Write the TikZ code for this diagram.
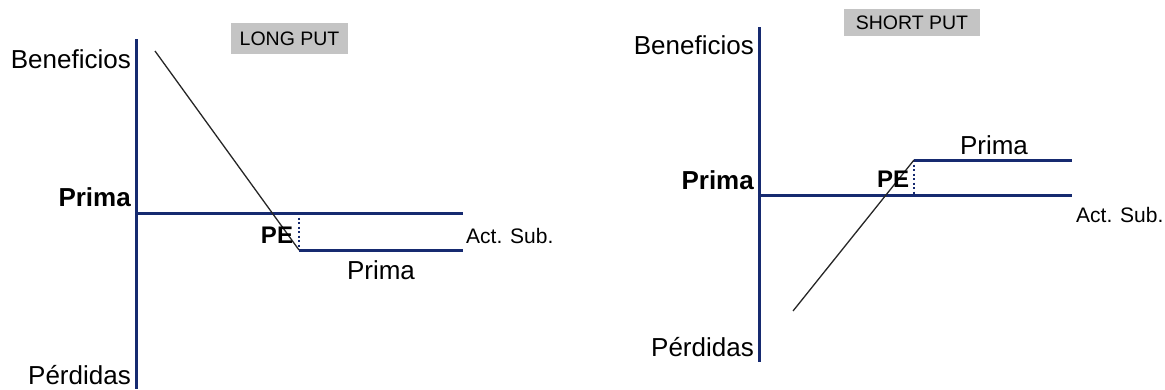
\documentclass[tikz,border=0pt]{standalone}
\usepackage{fontspec}
\setmainfont{Liberation Sans}
\usepackage{tikz}
\usetikzlibrary{positioning}
\definecolor{azulEje}{RGB}{22,42,112}
\definecolor{grisCaja}{RGB}{196,196,196}
\tikzstyle{eje} = [draw=azulEje, line width=3pt]
\tikzstyle{pago} = [draw=black!85, line width=1.3pt]
\tikzstyle{punteado} = [draw=azulEje, line width=1.2pt, dash pattern=on 2pt off 2.5pt]
\tikzstyle{etiqueta} = [inner sep=0pt, font=\fontsize{26}{29}\selectfont]
\tikzstyle{etiquetaN} = [inner sep=0pt, font=\fontsize{26}{29}\selectfont\bfseries]
\tikzstyle{titulo} = [fill=grisCaja, inner sep=0pt, font=\fontsize{19.5}{22}\selectfont]

\begin{document}
\begin{tikzpicture}[x=1pt, y=-1pt]
		\useasboundingbox (0,0) rectangle (1165,389);
		
		% LONG PUT
		% Ejes
		\coordinate (ejeA-sup) at (136,39);
		\coordinate (ejeA-inf) at (136,389);
		\coordinate (origenA) at (136,213);
		\coordinate (finA) at (463,213);
		\draw[eje] (ejeA-sup) -- (ejeA-inf);
		\draw[eje] (origenA) -- (finA);
		
		% Linea de la prima
		\coordinate (primaA-ini) at (299,250);
		\coordinate (primaA-fin) at (463,250);
		\coordinate (peA) at (299,213);
		\coordinate (diagA-sup) at (155,51);
		\draw[eje] (primaA-ini) -- (primaA-fin);
		\draw[punteado] (peA) -- (primaA-ini);
		\draw[pago] (diagA-sup) -- (primaA-ini);
		
		% Textos
		\node[titulo, minimum width=117pt, minimum height=31pt] (tituloA) at (289.5,38.5) {LONG PUT};
		\node[etiqueta, anchor=east] (benefA) at (131,59) {Beneficios};
		\node[etiquetaN, anchor=east] (primaA) at (131,197) {Prima};
		\node[etiqueta, anchor=east] (perdA) at (131,375) {Pérdidas};
		\node[etiquetaN, font=\fontsize{24}{27}\selectfont\bfseries] (textoPeA) at (277,235) {PE};
		\node[etiqueta, font=\fontsize{21}{24}\selectfont, anchor=west] (actA) at (466,236) {Act. Sub.};
		\node[etiqueta] (primaBajaA) at (381,270) {Prima};
		
		% SHORT PUT
		% Ejes
		\coordinate (ejeB-sup) at (759,27);
		\coordinate (ejeB-inf) at (759,362);
		\coordinate (origenB) at (759,195);
		\coordinate (finB) at (1072,195);
		\draw[eje] (ejeB-sup) -- (ejeB-inf);
		\draw[eje] (origenB) -- (finB);
		
		% Linea de la prima
		\coordinate (primaB-ini) at (914,160);
		\coordinate (primaB-fin) at (1072,160);
		\coordinate (peB) at (914,195);
		\coordinate (diagB-inf) at (793,311);
		\draw[eje] (primaB-ini) -- (primaB-fin);
		\draw[punteado] (primaB-ini) -- (peB);
		\draw[pago] (diagB-inf) -- (primaB-ini);
		
		% Textos
		\node[titulo, minimum width=136pt, minimum height=27pt] (tituloB) at (912,22.5) {SHORT PUT};
		\node[etiqueta, anchor=east] (benefB) at (754,45) {Beneficios};
		\node[etiquetaN, anchor=east] (primaB) at (754,180) {Prima};
		\node[etiqueta, anchor=east] (perdB) at (754,347) {Pérdidas};
		\node[etiquetaN, font=\fontsize{24}{27}\selectfont\bfseries] (textoPeB) at (893,179) {PE};
		\node[etiqueta, font=\fontsize{21}{24}\selectfont, anchor=west] (actB) at (1076,215) {Act. Sub.};
		\node[etiqueta] (primaAltaB) at (994,145) {Prima};
	\end{tikzpicture}
\end{document}
